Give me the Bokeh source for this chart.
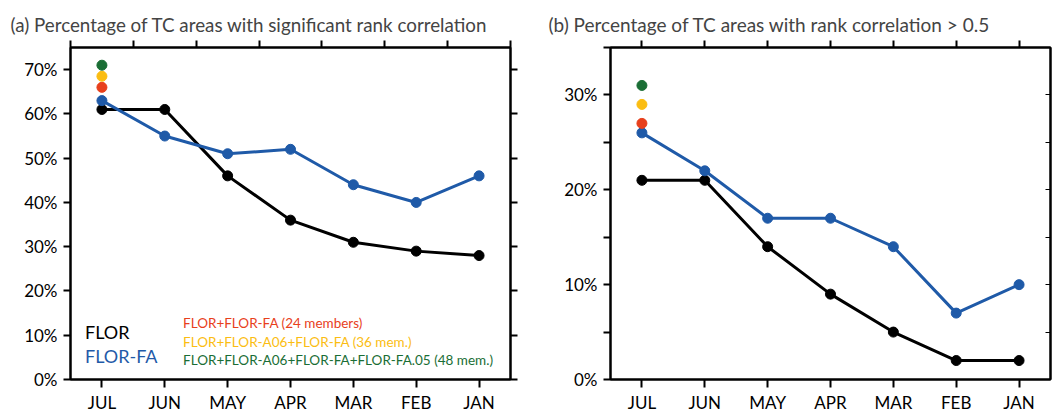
from bokeh.plotting import figure
from bokeh.models import Range1d, LinearAxis, FixedTicker, Label
from bokeh.layouts import row
from bokeh.embed import file_html
from bokeh.resources import INLINE

# ---------------- data ----------------
months = ["JUL", "JUN", "MAY", "APR", "MAR", "FEB", "JAN"]

a_flor = [61, 61, 46, 36, 31, 29, 28]
a_flor_fa = [63, 55, 51, 52, 44, 40, 46]
a_ens = [66, 68.5, 71]          # 24, 36, 48 members at JUL

b_flor = [21, 21, 14, 9, 5, 2, 2]
b_flor_fa = [26, 22, 17, 17, 14, 7, 10]
b_ens = [27, 29, 31]

ens_labels = ["FLOR+FLOR-FA (24 members)",
              "FLOR+FLOR-A06+FLOR-FA (36 mem.)",
              "FLOR+FLOR-A06+FLOR-FA+FLOR-FA.05 (48 mem.)"]
ens_colors = ["#e8401c", "#fbbd12", "#1a6e35"]

BLACK = "#000000"
BLUE = "#1f5aa8"
FONT = "Lato"

xs = list(range(len(months)))


def base_fig(title, ymax, width, left, right, toff, tsize):
    p = figure(width=width, height=415, output_backend="svg", toolbar_location=None,
               x_range=Range1d(-0.5, len(months) - 0.5), y_range=Range1d(0, ymax),
               min_border_left=left, min_border_right=right,
               min_border_top=47, min_border_bottom=34,
               x_axis_location=None, y_axis_location=None)
    p.xgrid.visible = False
    p.ygrid.visible = False
    p.outline_line_color = "black"
    p.outline_line_width = 2
    p.background_fill_color = "white"
    p.border_fill_color = "white"
    p.title.text = title
    p.title.text_font = FONT
    p.title.text_font_size = tsize
    p.title.text_font_style = "normal"
    p.title.align = "left"
    p.title.offset = toff
    p.title.standoff = 9
    return p


def style_axis(ax, ticks, overrides, tin=0, tout=7, show=True, minor=None):
    ax.ticker = FixedTicker(ticks=ticks, minor_ticks=minor or [])
    ax.axis_line_width = 2
    ax.major_tick_line_width = 2
    ax.major_tick_in = tin
    ax.major_tick_out = tout
    if minor:
        ax.minor_tick_line_width = 2
        ax.minor_tick_in = tin
        ax.minor_tick_out = tout
    else:
        ax.minor_tick_line_color = None
    ax.major_label_overrides = overrides
    ax.major_label_text_font = FONT
    ax.major_label_text_font_size = "17px"
    ax.major_label_text_color = "black" if show else None


def draw(p, flor, flor_fa, ens):
    p.line(xs, flor, line_color=BLACK, line_width=3)
    p.scatter(xs, flor, size=10, color=BLACK)
    p.line(xs, flor_fa, line_color=BLUE, line_width=3)
    p.scatter(xs, flor_fa, size=10, color=BLUE)
    for v, c in zip(ens, ens_colors):
        p.scatter([0], [v], size=10, color=c)


month_over = {i: m for i, m in enumerate(months)}

# ---------------- panel (a) ----------------
pa = base_fig("(a) Percentage of TC areas with significant rank correlation", 75, 530, 70, 20,
              -60, "18.8px")
draw(pa, a_flor, a_flor_fa, a_ens)

ya = list(range(0, 71, 10))
ax = LinearAxis(); style_axis(ax, xs, month_over, tout=8); ax.major_label_standoff = 4
pa.add_layout(ax, "below")
ax = LinearAxis(); style_axis(ax, [i - 0.5 for i in range(len(months) + 1)], {}, tout=7, show=False)
pa.add_layout(ax, "above")
ax = LinearAxis(); style_axis(ax, ya, {v: f"{v}%" for v in ya}, tout=7); ax.major_label_standoff = 6
pa.add_layout(ax, "left")
ax = LinearAxis(); style_axis(ax, ya, {}, tout=7, show=False)
pa.add_layout(ax, "right")

pa.add_layout(Label(x=-0.27, y=10.8, text="FLOR", text_color=BLACK, text_font=FONT,
                    text_font_size="18px", text_baseline="middle"))
pa.add_layout(Label(x=-0.27, y=5.2, text="FLOR-FA", text_color=BLUE, text_font=FONT,
                    text_font_size="18px", text_baseline="middle"))
for yv, t, c in zip([12.8, 8.5, 4.5], ens_labels, ens_colors):
    pa.add_layout(Label(x=1.29, y=yv, text=t, text_color=c, text_font=FONT,
                        text_font_size="13.5px", text_baseline="middle"))

# ---------------- panel (b) ----------------
pb = base_fig("(b) Percentage of TC areas with rank correlation > 0.5", 35, 527, 80, 7,
              -62, "19px")
draw(pb, b_flor, b_flor_fa, b_ens)

yb_major = [0, 10, 20, 30]
yb_minor = [5, 15, 25, 35]
ax = LinearAxis(); style_axis(ax, xs, month_over, tout=8); ax.major_label_standoff = 4
pb.add_layout(ax, "below")
ax = LinearAxis(); style_axis(ax, xs, {}, tout=7, show=False)
pb.add_layout(ax, "above")
ax = LinearAxis(); style_axis(ax, yb_major, {v: f"{v}%" for v in yb_major}, tout=7, minor=yb_minor)
ax.major_label_standoff = 6
pb.add_layout(ax, "left")
ax = LinearAxis(); style_axis(ax, yb_major, {}, tin=5, tout=0, show=False, minor=yb_minor)
ax.major_tick_line_width = 1
ax.minor_tick_line_width = 1
pb.add_layout(ax, "right")

layout = row(pa, pb)
open("out.html", "w").write(file_html(layout, INLINE))
